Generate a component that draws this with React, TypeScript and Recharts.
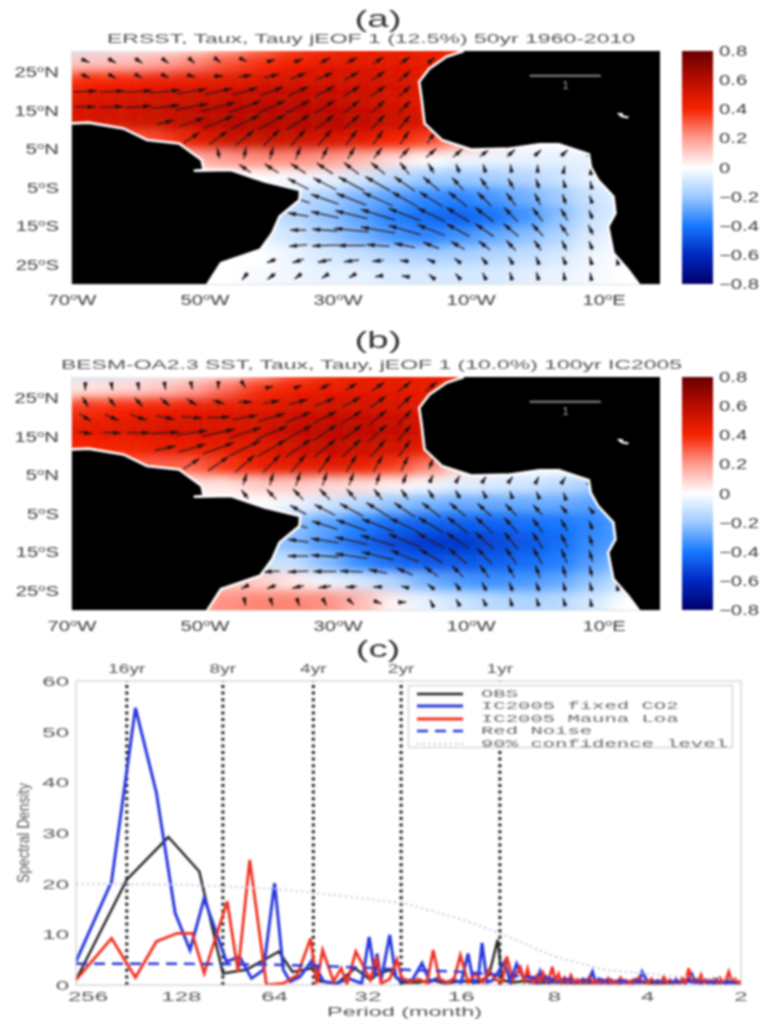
import React from 'react';
import {
  ComposedChart, Area, Line, Scatter, XAxis, YAxis, ReferenceLine, ReferenceDot, Legend,
} from 'recharts';

const FONT = '"Liberation Sans", Arial, sans-serif';
const TEXT = '#3c3c3c';

// ─── Map data ────────────────────────────────────────────────────────────────
const lonTicks = [-70, -50, -30, -10, 10];
const latTicks = [25, 15, 5, -5, -15, -25];
const cbarTicks = [0.8, 0.6, 0.4, 0.2, 0, -0.2, -0.4, -0.6, -0.8];

// colormap: value, colour
const cmap: [number, string][] = [
  [-0.8, '#00006a'], [-0.6, '#0028c0'], [-0.4, '#1678ff'], [-0.2, '#9ccaff'], [0, '#ffffff'],
  [0.2, '#ff9c90'], [0.4, '#f62400'], [0.6, '#b80c00'], [0.8, '#680000'],
];

const southAmerica = [
  [-70, 11.7], [-67.5, 11.9], [-62.3, 10.4], [-58.7, 7.4], [-53.9, 6.5], [-50.5, 2.2], [-50.2, -0.4],
  [-51.7, -0.6], [-46.1, -0.4], [-41, -3.4], [-35.7, -5.6], [-35.8, -8.2], [-38.8, -12.5], [-39.9, -16.8],
  [-41.7, -21.1], [-47.6, -24.6], [-49.8, -30.5], [-70, -30.5],
];
const africa = [
  [-11.1, 30.5], [-13.7, 29], [-16.3, 25.9], [-17.8, 22.5], [-17.4, 17.7], [-17, 11.7], [-14.4, 7.4],
  [-10, 4.9], [-4.1, 5.2], [0.3, 6.3], [3.2, 6.3], [7.7, 3.7], [8, 0.4], [9.1, -3], [11.4, -7.3],
  [11.7, -11.6], [10.6, -15.1], [11.4, -22], [13.6, -26.3], [15.4, -30.5], [18.4, -30.5], [18.4, 30.5],
];
const lake = [[11.9, 14.4], [12.6, 13.3], [13.6, 13], [13.7, 13.5], [12.8, 13.8]];
const scaleBar = [[-1.2, 24.1], [9.5, 24.1]];

// SST loading, rows lat 30..-30 by 5, columns lon -70..20 by 5
const heatA = [
  [-.08, -.08, -.05, -.02, .02, .1, .22, .33, .38, .42, .42, .42, .42, .42, .42, .42, .42, .42, .42],
  [.12, .12, .14, .18, .24, .32, .38, .42, .45, .46, .46, .44, .42, .42, .42, .42, .42, .42, .42],
  [.38, .4, .42, .44, .46, .48, .5, .52, .52, .52, .5, .48, .44, .42, .42, .42, .42, .42, .42],
  [.48, .5, .52, .54, .55, .56, .57, .57, .56, .54, .5, .46, .42, .42, .42, .42, .42, .42, .42],
  [.5, .5, .52, .55, .58, .6, .6, .6, .6, .57, .54, .5, .38, .3, .2, .2, .2, .2, .2],
  [.3, .3, .3, .35, .45, .55, .55, .54, .5, .46, .4, .34, .24, .08, 0, 0, 0, 0, 0],
  [.1, .1, .1, .1, .15, .2, .22, .22, .2, .14, .06, 0, -.03, -.04, -.05, -.05, -.05, -.05, -.05],
  [0, 0, 0, 0, 0, 0, 0, -.02, -.04, -.09, -.15, -.2, -.2, -.18, -.15, -.1, -.04, 0, 0],
  [-.1, -.1, -.1, -.1, -.1, -.1, -.1, -.12, -.18, -.26, -.31, -.36, -.37, -.32, -.26, -.18, -.1, -.05, 0],
  [-.1, -.1, -.1, -.1, -.1, -.1, -.1, -.15, -.22, -.3, -.38, -.43, -.45, -.41, -.33, -.22, -.1, -.05, 0],
  [-.05, -.05, -.05, -.05, -.05, -.05, -.05, -.1, -.18, -.26, -.33, -.37, -.33, -.28, -.22, -.15, -.06, -.03, 0],
  [0, 0, 0, 0, 0, 0, 0, -.04, -.08, -.11, -.15, -.17, -.17, -.15, -.12, -.08, -.03, 0, 0],
  [0, 0, 0, 0, 0, 0, -.02, -.03, -.05, -.05, -.07, -.08, -.08, -.08, -.06, -.04, -.02, 0, 0],
];
const heatB = [
  [-.1, -.1, -.07, -.04, -.02, .02, .12, .28, .36, .42, .42, .42, .42, .42, .42, .42, .42, .42, .42],
  [.05, .06, .08, .12, .18, .28, .38, .42, .44, .46, .46, .44, .42, .42, .42, .42, .42, .42, .42],
  [.36, .38, .4, .42, .44, .46, .48, .5, .52, .52, .5, .46, .42, .42, .42, .42, .42, .42, .42],
  [.44, .46, .48, .5, .5, .5, .52, .56, .58, .58, .56, .5, .42, .42, .42, .42, .42, .42, .42],
  [.4, .4, .42, .44, .45, .46, .48, .52, .56, .54, .52, .46, .3, .24, .2, .2, .2, .2, .2],
  [.3, .3, .3, .3, .3, .38, .44, .46, .46, .44, .36, .24, .1, .02, 0, 0, 0, 0, 0],
  [.05, .05, .05, .05, .05, .05, .1, .1, .08, .06, .02, -.02, -.06, -.08, -.1, -.14, -.18, -.18, -.18],
  [0, 0, 0, 0, 0, 0, 0, -.04, -.1, -.16, -.22, -.26, -.28, -.28, -.28, -.28, -.3, -.3, -.3],
  [-.2, -.2, -.2, -.2, -.2, -.2, -.2, -.22, -.3, -.38, -.44, -.46, -.46, -.45, -.42, -.4, -.36, -.3, -.3],
  [-.2, -.2, -.2, -.2, -.2, -.2, -.2, -.24, -.34, -.44, -.52, -.56, -.56, -.52, -.48, -.42, -.34, -.3, -.3],
  [-.1, -.1, -.1, -.1, -.1, -.1, -.1, -.12, -.24, -.36, -.44, -.48, -.48, -.46, -.42, -.38, -.3, -.2, -.2],
  [.12, .12, .12, .12, .12, .12, .1, .04, -.03, -.08, -.16, -.26, -.32, -.34, -.32, -.28, -.2, -.1, -.1],
  [.2, .2, .2, .2, .2, .22, .24, .24, .22, .14, .02, -.05, -.1, -.14, -.16, -.14, -.08, 0, 0],
];

// wind stress vectors: lat, first lon, u and v (1/100 of the "1" reference arrow) every 4 deg of lon
type ArrowRow = [number, number, number[], number[]];
const arrowsA: ArrowRow[] = [
  [28, -68, [7, 7, 7, 6, 5, 4, 3, 6, 8, 9, 10, 10, 9, 6], [-4, -5, -6, -6, -6, -4, -2, 2, 4, 6, 7, 8, 8, 7]],
  [24, -68, [8, 7, 6, 6, 6, 8, 12, 13, 14, 14, 13, 12, 10, 8], [-5, -5, -4, -4, -2, 0, 2, 4, 7, 8, 9, 10, 11, 10]],
  [20, -68, [20, 22, 24, 26, 26, 24, 22, 20, 18, 17, 15, 13, 10, 8], [1, 1, 2, 3, 5, 7, 9, 10, 11, 12, 12, 12, 12, 11]],
  [16, -68, [18, 20, 22, 25, 28, 30, 28, 24, 20, 17, 14, 12, 10, 8], [0, 1, 2, 4, 7, 10, 13, 14, 14, 14, 14, 14, 13, 12]],
  [12, -56, [15, 22, 26, 26, 24, 20, 16, 14, 12, 10, 9], [5, 10, 14, 16, 17, 17, 16, 16, 16, 15, 14]],
  [8, -52, [14, 16, 16, 14, 13, 12, 10, 9, 8, 7, 6], [12, 15, 17, 18, 18, 18, 17, 16, 15, 13, 10]],
  [4, -48, [-2, 2, 3, 4, 5, 6, 7, 8, 9, 8, 8, 7, 6, 6, 5], [12, 13, 14, 14, 13, 13, 12, 11, 10, 9, 8, 8, 7, 7, 3]],
  [0, -44, [-10, -12, -13, -14, -13, -12, -8, -5, -3, -2, -1, 0, 1, 0], [9, 10, 11, 12, 13, 13, 13, 11, 10, 9, 9, 8, 6, 3]],
  [-4, -36, [-18, -20, -22, -22, -18, -14, -10, -7, -5, -3, -2, -1], [12, 13, 15, 16, 16, 15, 14, 13, 12, 11, 9, 6]],
  [-8, -36, [-20, -24, -26, -26, -22, -20, -16, -12, -8, -5, -3, -2, -3], [8, 11, 13, 15, 16, 16, 16, 15, 14, 13, 11, 8, 1]],
  [-12, -36, [-18, -24, -28, -30, -28, -24, -20, -16, -12, -9, -6, -3], [4, 7, 9, 12, 14, 15, 16, 16, 16, 15, 13, 10]],
  [-16, -36, [-14, -22, -30, -30, -28, -24, -20, -16, -13, -10, -7, -4], [0, 2, 4, 7, 10, 12, 14, 14, 14, 14, 13, 11]],
  [-20, -36, [-16, -22, -24, -20, -18, -14, -12, -10, -8, -6, -4, -3], [-2, -1, 0, 2, 5, 7, 9, 10, 11, 11, 11, 10]],
  [-24, -40, [-8, -10, -12, -13, -10, -8, -7, -6, -5, -4, -3, -3, -2, -1], [-4, -4, -3, -2, -1, 1, 4, 6, 8, 9, 9, 9, 9, 8]],
  [-28, -44, [-5, -7, -6, -5, -4, -5, -5, -4, -4, -3, -2, -2, -1, -1], [-8, -7, -6, -4, -3, -1, 1, 4, 6, 8, 9, 9, 9, 8]],
];
const arrowsB: ArrowRow[] = [
  [28, -68, [0, 1, 1, 1, 1, 0, 1, 3, 6, 9, 10, 11, 11, 10], [-8, -8, -8, -7, -6, -5, -2, 1, 3, 6, 8, 10, 11, 11]],
  [24, -68, [5, 6, 7, 8, 9, 10, 12, 14, 16, 17, 16, 14, 12, 9], [-11, -10, -10, -9, -7, -4, 0, 3, 6, 9, 11, 13, 14, 14]],
  [20, -68, [10, 12, 14, 16, 18, 20, 22, 23, 22, 20, 18, 15, 12, 8], [-8, -7, -6, -4, -2, 1, 5, 9, 12, 14, 15, 16, 16, 15]],
  [16, -68, [12, 16, 20, 24, 27, 28, 28, 27, 24, 21, 18, 15, 11, 7], [-2, -1, 0, 2, 5, 8, 12, 15, 17, 18, 18, 18, 17, 16]],
  [12, -56, [18, 24, 27, 27, 25, 22, 19, 16, 13, 10, 6], [5, 9, 13, 17, 19, 20, 20, 20, 19, 18, 15]],
  [8, -52, [14, 18, 17, 15, 13, 11, 9, 8, 6, 4], [12, 16, 19, 20, 20, 20, 19, 18, 16, 12]],
  [4, -44, [3, 3, 4, 4, 4, 3, 3, 3, 3, 3, 3, 2, 2, 1], [13, 14, 15, 15, 14, 13, 11, 9, 7, 6, 5, 5, 4, 3]],
  [0, -44, [-6, -8, -9, -9, -8, -7, -6, -5, -4, -3, -2, -2, -1], [10, 11, 12, 12, 12, 12, 11, 10, 9, 8, 7, 6, 4]],
  [-4, -36, [-14, -18, -20, -20, -18, -16, -14, -12, -10, -8, -6, -4, -1], [10, 12, 14, 16, 16, 16, 15, 14, 13, 11, 9, 6, 3]],
  [-8, -36, [-16, -22, -26, -28, -26, -22, -18, -15, -12, -9, -6, -3, -1], [6, 9, 12, 14, 16, 17, 18, 18, 17, 15, 13, 10, 6]],
  [-12, -36, [-18, -24, -28, -30, -28, -24, -20, -16, -12, -9, -6, -3], [3, 5, 8, 12, 15, 17, 18, 19, 19, 18, 15, 12]],
  [-16, -36, [-18, -24, -28, -28, -24, -20, -16, -13, -10, -8, -5, -3], [0, 2, 5, 9, 13, 15, 17, 18, 18, 18, 16, 13]],
  [-20, -40, [-14, -18, -20, -20, -16, -14, -12, -10, -8, -6, -4, -3, -2], [-1, -1, 0, 1, 4, 8, 11, 13, 14, 14, 14, 13, 12]],
  [-24, -44, [-6, -8, -10, -11, -10, -8, -6, -6, -5, -4, -3, -3, -2, -2, -1], [-4, -4, -3, -2, -1, 0, 2, 6, 9, 10, 10, 10, 10, 10, 9]],
  [-28, -44, [1, 2, 2, 3, 4, 6, 3, -2, -3, -3, -2, -2, -2, -1], [-7, -8, -8, -7, -5, -3, 0, 5, 7, 8, 9, 9, 9, 8]],
];

// ─── Spectrum data (period in months, density) ───────────────────────────────
const periodTicks = [256, 128, 64, 32, 16, 8, 4, 2];
const densityTicks = [0, 10, 20, 30, 40, 50, 60];
const yearMarks: [number, string][] = [[192, '16yr'], [94, '8yr'], [48, '4yr'], [25, '2yr'], [12, '1yr']];

const obsPeriod = [280, 192, 141, 112, 94, 79, 62, 56, 48.4, 45.6, 40.3, 35.2, 31.4, 30, 27.2, 25, 22, 20, 18, 16, 14, 13, 12.2, 11.8, 11, 10, 9, 8, 7, 6, 5, 4.4, 3.8, 3.2, 2.8, 2.4, 2];
const obsValue = [1, 20.8, 29.2, 22.4, 2.3, 3, 6.6, 2.6, 3.3, 0.7, 0.3, 3.3, 1, 2, 3, 0.5, 0.5, 1, 0.3, 0.8, 0.5, 2, 8.9, 1, 0.5, 0.8, 0.4, 0.6, 0.4, 0.5, 0.4, 0.6, 0.3, 0.5, 1.2, 0.5, 0.4];

// the fine-grained part of the model spectra, 10 to 2 months
const tailPeriod = [10, 9.77, 9.55, 9.33, 9.12, 8.91, 8.71, 8.51, 8.32, 8.13, 7.94, 7.76, 7.59, 7.41, 7.24, 7.08, 6.92, 6.76, 6.61, 6.46, 6.31, 6.17, 6.03, 5.89, 5.75, 5.62, 5.5, 5.37, 5.25, 5.13, 5.01, 4.9, 4.79, 4.68, 4.57, 4.47, 4.37, 4.27, 4.17, 4.07, 3.98, 3.89, 3.8, 3.72, 3.63, 3.55, 3.47, 3.39, 3.31, 3.24, 3.16, 3.09, 3.02, 2.95, 2.88, 2.82, 2.75, 2.69, 2.63, 2.57, 2.51, 2.45, 2.4, 2.34, 2.29, 2.24, 2.19, 2.14, 2.09, 2.04, 2];

const bluePeriod = [280, 215, 180, 154, 134, 120, 108, 91.5, 83, 76, 69.5, 64, 60, 57, 53, 48.4, 44.5, 40.3, 37, 33.5, 31.7, 30.3, 29.9, 29, 27.2, 26, 24.9, 23, 21.4, 20.2, 19, 18, 17, 16, 15.2, 14.6, 14.1, 13.7, 13.2, 12.6, 11.6, 11.1, 10.6, ...tailPeriod];
const blueValue = [4.6, 20.4, 54.7, 37.9, 14.2, 6.9, 17.1, 4.6, 5.6, 1.3, 3, 20.1, 3, 0.7, 1.6, 4.9, 0.7, 0.3, 1.3, 0.3, 9.5, 1.6, 6.2, 1, 9.9, 1.5, 0.8, 1, 4.3, 0.6, 1.4, 0.4, 1, 0.5, 6.2, 0.4, 1.2, 8.3, 0.5, 1, 4.5, 0.5, 4.2,
  0.9, 2.4, 0.6, 1.4, 0.5, 2.6, 0.8, 1.6, 0.4, 1, 0.5, 0.8, 0.3, 1.1, 0.4, 0.8, 0.3, 0.9, 0.4, 1, 0.3, 1.3, 2.6, 0.5, 1.2, 0.4, 0.8, 0.3, 1, 0.4, 0.7, 0.3, 0.9, 0.4, 0.7, 0.3, 1.1, 0.5, 2.6, 1.4, 0.5, 1, 0.3, 0.9, 0.4, 1.4, 0.5, 0.8, 0.3, 1.1, 0.4, 0.7, 0.3, 1.2, 2.1, 0.5, 0.9, 0.3, 1, 0.4, 0.8, 0.3, 1.1, 0.4, 0.7, 0.3, 0.9, 0.4, 1, 0.3, 0.6];

const redPeriod = [280, 215, 180, 154, 132, 118, 108, 91, 84, 77, 68, 60, 54, 49, 46.8, 44.8, 41.3, 39, 37.4, 35, 31.4, 30, 29, 27.2, 25.8, 24.9, 23.5, 22, 20.6, 19.7, 18.8, 17.6, 16.8, 16.1, 15.2, 14.4, 13.6, 13, 12.4, 11.8, 11.4, 10.9, 10.3, ...tailPeriod];
const redValue = [1, 9.2, 1.5, 8.6, 10.2, 10.2, 2.3, 16.5, 2.6, 24.7, 0, 0.3, 2, 9.2, 0.3, 6.9, 0.7, 3.3, 0.2, 6.6, 1, 5.6, 0.3, 1.2, 5, 1.5, 0.6, 1.2, 0.4, 6.9, 1.2, 0.4, 1.5, 5.9, 0.5, 2.2, 0.5, 3, 1, 0.6, 5.6, 1, 3.5,
  0.8, 3.2, 1, 0.4, 1.8, 0.6, 2.4, 0.7, 1.2, 3.6, 0.8, 2.2, 0.5, 1.5, 0.4, 1.9, 0.6, 1.1, 0.3, 1.2, 0.5, 1.6, 0.4, 0.9, 0.3, 1.1, 0.4, 1.3, 0.3, 0.8, 0.3, 1.4, 0.5, 0.9, 0.3, 1, 0.4, 1.5, 0.5, 0.8, 0.3, 1.2, 0.4, 0.9, 0.3, 1.6, 0.5, 1, 0.4, 0.9, 0.3, 1.3, 0.5, 3.3, 0.6, 1, 0.4, 2, 0.5, 1, 0.4, 1.2, 0.3, 1.4, 0.5, 0.9, 2.6, 0.6, 1.2, 0.4, 0.8];

const noisePeriod = [280, 128, 64, 48, 32, 24, 16, 12, 8, 4, 2];
const noiseValue = [4.2, 4.2, 4, 3.8, 3.4, 3, 2.6, 2, 1.2, 0.7, 0.5];
const confPeriod = [280, 128, 96, 64, 48, 32, 24, 16, 12, 8, 5.5, 4, 2.8, 2];
const confValue = [20, 19.8, 19.5, 19, 18.2, 17, 16, 13, 10.2, 5.6, 3, 2.2, 1.4, 1];

const series = [
  { name: 'OBS', periods: obsPeriod, values: obsValue, color: '#222222', width: 2.4, dash: undefined },
  { name: 'IC2005 fixed CO2', periods: bluePeriod, values: blueValue, color: '#2a38dc', width: 3, dash: undefined },
  { name: 'IC2005 Mauna Loa', periods: redPeriod, values: redValue, color: '#f03020', width: 2.8, dash: undefined },
  { name: 'Red Noise', periods: noisePeriod, values: noiseValue, color: '#2a38dc', width: 2.4, dash: '11 7' },
  { name: '90% confidence level', periods: confPeriod, values: confValue, color: '#c4c8ea', width: 2, dash: '2 3.5' },
];

// ─── Helpers ─────────────────────────────────────────────────────────────────
function colorFor(v: number) {
  const hex = (s: string, i: number) => parseInt(s.slice(1 + i * 2, 3 + i * 2), 16);
  const clamped = Math.max(-0.8, Math.min(0.8, v));
  let i = 0;
  while (i < cmap.length - 2 && clamped > cmap[i + 1][0]) i++;
  const [a, ca] = cmap[i];
  const [b, cb] = cmap[i + 1];
  const t = (clamped - a) / (b - a);
  const ch = [0, 1, 2].map((k) => Math.round(hex(ca, k) + (hex(cb, k) - hex(ca, k)) * t));
  return `rgb(${ch[0]},${ch[1]},${ch[2]})`;
}

// closed shape for an Area: upper edge follows the outline, lower edge stays on the first point's latitude
const landData = (pts: number[][]) => {
  const base = pts[0][1];
  return pts.map(([lon, lat]) => ({ lon, edge: [base, lat] }));
};
const coastData = (pts: number[][]) => pts.map(([lon, lat]) => ({ lon, lat }));

function heatCells(table: number[][]) {
  return table.flatMap((row, r) => row.map((v, c) => ({ lon: -70 + c * 5, lat: 30 - r * 5, v, r, c })));
}

function arrowCells(rows: ArrowRow[]) {
  return rows.flatMap(([lat, start, us, vs]) => us.map((u, i) => ({ lon: start + i * 4, lat, u, v: vs[i] })));
}

const HeatCell = (p: any) => {
  const { cx, cy, payload } = p;
  const w = 56;
  const h = 34;
  // border cells run past the plot so the blur does not fade at the frame
  const x0 = cx - w / 2 - (payload.c === 0 ? 40 : 0);
  const x1 = cx + w / 2 + (payload.c === 18 ? 40 : 0);
  const y0 = cy - h / 2 - (payload.r === 0 ? 40 : 0);
  const y1 = cy + h / 2 + (payload.r === 12 ? 40 : 0);
  return <rect x={x0} y={y0} width={x1 - x0} height={y1 - y0} fill={colorFor(payload.v)} filter="url(#heatBlur)" />;
};

const Arrow = (p: any) => {
  const { cx, cy, payload } = p;
  const dx = payload.u * 1.15;
  const dy = -payload.v * 0.9;
  const len = Math.hypot(dx, dy);
  if (!len) return <g />;
  const ux = dx / len;
  const uy = dy / len;
  const tx = cx + dx / 2;
  const ty = cy + dy / 2;
  const bx = tx - ux * 8;
  const by = ty - uy * 8;
  return (
    <g>
      <line x1={cx - dx / 2} y1={cy - dy / 2} x2={tx} y2={ty} stroke="#2a1c1c" strokeWidth={1.3} />
      <polygon points={`${tx},${ty} ${bx - uy * 2.2},${by + ux * 2.2} ${bx + uy * 2.2},${by - ux * 2.2}`} fill="#1c1010" />
    </g>
  );
};

function Wide({ x, y, sx = 1.45, size = 14, anchor = 'middle', fill = TEXT, children }: any) {
  return (
    <text transform={`translate(${x},${y}) scale(${sx},1)`} textAnchor={anchor} fontSize={size} fontFamily={FONT} fill={fill}>
      {children}
    </text>
  );
}

const Deg = ({ num, hemi }: { num: number; hemi: string }) => (
  <>
    <tspan>{num}</tspan>
    <tspan dy={-5} fontSize={9}>o</tspan>
    <tspan dy={5}>{hemi}</tspan>
  </>
);

const LonTick = ({ x, y, payload }: any) => {
  const v = payload.value;
  return <Wide x={x} y={y + 13}><Deg num={Math.abs(v)} hemi={v < 0 ? 'W' : 'E'} /></Wide>;
};
const LatTick = ({ x, y, payload }: any) => {
  const v = payload.value;
  return <Wide x={x - 5} y={y + 5} anchor="end"><Deg num={Math.abs(v)} hemi={v < 0 ? 'S' : 'N'} /></Wide>;
};

// ─── Map panel ───────────────────────────────────────────────────────────────
function MapPanel({ top, tag, title, titleX, titleLen, heat, arrows, id }: any) {
  const axisDomainX: [number, number] = [-70, 18.4];
  const axisDomainY: [number, number] = [-30, 30.5];
  return (
    <div style={{ position: 'absolute', left: 0, top }}>
      <ComposedChart width={767} height={320} margin={{ top: 51, right: 107, bottom: 6, left: 2 }}>
        <defs>
          <filter id="heatBlur" x="-60%" y="-60%" width="220%" height="220%">
            <feGaussianBlur stdDeviation="10 6" />
          </filter>
        </defs>
        <XAxis dataKey="lon" type="number" domain={axisDomainX} ticks={lonTicks} allowDataOverflow
          tick={LonTick} tickLine={false} axisLine={{ stroke: '#c4c4c4' }} height={30} interval={0} />
        <YAxis dataKey="lat" type="number" domain={axisDomainY} ticks={latTicks} allowDataOverflow
          tick={LatTick} tickLine={false} axisLine={{ stroke: '#c4c4c4' }} width={70} interval={0} />
        <Scatter name={`${id}-sst`} data={heatCells(heat)} shape={HeatCell} isAnimationActive={false} />
        <Scatter name={`${id}-wind`} data={arrowCells(arrows)} shape={Arrow} isAnimationActive={false} />
        <Wide x={378} y={tag === '(a)' ? 27 : 22} size={24} sx={1.6} fill="#333">{tag}</Wide>
        <text x={titleX} y={43} fontSize={13} fontFamily={FONT} fill="#555"
          textLength={titleLen} lengthAdjust="spacingAndGlyphs">{title}</text>
      </ComposedChart>
      {/* land sits in its own chart on top: recharts paints Scatter above Area in one chart */}
      <div style={{ position: 'absolute', left: 0, top: 0 }}>
        <ComposedChart width={767} height={320} margin={{ top: 51, right: 107, bottom: 36, left: 72 }}>
          <XAxis dataKey="lon" type="number" domain={axisDomainX} allowDataOverflow hide />
          <YAxis type="number" domain={axisDomainY} allowDataOverflow hide />
          {[southAmerica, africa].map((land, i) => (
            <Area key={`land${i}`} data={landData(land)} dataKey="edge" type="linear" fill="#000" fillOpacity={1}
              stroke="none" dot={false} activeDot={false} isAnimationActive={false} />
          ))}
          <Area data={landData(lake)} dataKey="edge" type="linear" fill="#fff" fillOpacity={1}
            stroke="none" dot={false} activeDot={false} isAnimationActive={false} />
          {[southAmerica.slice(0, 17), africa.slice(0, 20)].map((coast, i) => (
            <Line key={`coast${i}`} data={coastData(coast)} dataKey="lat" type="linear" stroke="#fff" strokeWidth={2.6}
              dot={false} activeDot={false} isAnimationActive={false} />
          ))}
          <Line data={coastData(scaleBar)} dataKey="lat" type="linear" stroke="#8a8a8a" strokeWidth={2}
            dot={false} activeDot={false} isAnimationActive={false} />
          <ReferenceDot x={4.2} y={21.6} r={0} stroke="none" fill="none"
            label={{ value: '1', fill: '#aaa', fontSize: 11, fontFamily: FONT, position: 'center' }} />
        </ComposedChart>
      </div>
    </div>
  );
}

const cbarBand = [{ x: 0, span: [-0.8, 0.8] }, { x: 1, span: [-0.8, 0.8] }];

function ColorBar({ top, id }: { top: number; id: string }) {
  return (
    <div style={{ position: 'absolute', left: 640, top: top + 41 }}>
      <ComposedChart width={127} height={253} data={cbarBand} margin={{ top: 10, right: 4, bottom: 10, left: 42 }}>
        <defs>
          <linearGradient id={id} x1="0" y1="0" x2="0" y2="1">
            {cmap.slice().reverse().map(([v, c]) => (
              <stop key={v} offset={`${((0.8 - v) / 1.6) * 100}%`} stopColor={c} />
            ))}
          </linearGradient>
        </defs>
        <XAxis dataKey="x" type="number" domain={[0, 1]} hide />
        <YAxis orientation="right" type="number" domain={[-0.8, 0.8]} ticks={cbarTicks} width={50} interval={0}
          axisLine={false} tickLine={false}
          tick={({ x, y, payload }: any) => (
            <Wide x={x - 2} y={y + 5} anchor="start" size={14} sx={1.45}>
              {payload.value === 0 ? '0' : String(payload.value).replace('-', '\u2212')}
            </Wide>
          )} />
        <Area dataKey="span" type="linear" fill={`url(#${id})`} fillOpacity={1} stroke="none" dot={false} activeDot={false} isAnimationActive={false} />
      </ComposedChart>
    </div>
  );
}

// ─── Spectrum panel ──────────────────────────────────────────────────────────
const SpectrumLegend = () => (
  <div style={{ width: 325, height: 63, boxSizing: 'border-box', border: '1px solid #c8c8c8', background: '#fff', position: 'relative' }}>
    {series.map((s, i) => (
      <div key={s.name} style={{ position: 'absolute', left: 0, top: 2 + i * 12.4, height: 12, width: 323 }}>
        <svg width={60} height={12} style={{ position: 'absolute', left: 8, top: 0 }}>
          <line x1={0} x2={46} y1={6} y2={6} stroke={s.color} strokeWidth={s.width} strokeDasharray={s.dash} />
        </svg>
        <span style={{
          position: 'absolute', left: 72, top: 0, fontFamily: '"Liberation Mono", monospace', fontSize: 11, lineHeight: '12px',
          color: '#666', whiteSpace: 'pre', transform: 'scaleX(1.87)', transformOrigin: 'left center',
        }}>{s.name}</span>
      </div>
    ))}
  </div>
);

function Spectrum() {
  return (
    <div style={{ position: 'absolute', left: 0, top: 630 }}>
      <ComposedChart width={767} height={390} margin={{ top: 50, right: 25, bottom: 5, left: 6 }}>
        <XAxis dataKey="period" type="number" scale="log" domain={[2, 280]} reversed allowDataOverflow
          ticks={periodTicks} interval={0} height={30} tickLine={false} axisLine={{ stroke: '#c4c4c4' }}
          tick={({ x, y, payload }: any) => <Wide x={x} y={y + 8} size={13} sx={1.85} fill="#555">{payload.value}</Wide>} />
        <XAxis xAxisId="top" orientation="top" dataKey="period" type="number" scale="log" domain={[2, 280]} reversed allowDataOverflow
          ticks={periodTicks} interval={0} height={1} tick={false} tickSize={-3} tickLine={{ stroke: '#c4c4c4' }} axisLine={{ stroke: '#c4c4c4' }} />
        <YAxis type="number" domain={[0, 60]} ticks={densityTicks} interval={0} width={70} allowDataOverflow
          tickLine={false} axisLine={{ stroke: '#c4c4c4' }}
          tick={({ x, y, payload }: any) => <Wide x={x + 1} y={y + 5} anchor="end" size={13} sx={1.85} fill="#555">{payload.value}</Wide>} />
        <YAxis yAxisId="right" orientation="right" type="number" domain={[0, 60]} ticks={densityTicks} interval={0} width={1}
          tick={false} tickSize={-3} tickLine={{ stroke: '#c4c4c4' }} axisLine={{ stroke: '#c4c4c4' }} />
        {yearMarks.map(([p, label]) => (
          <ReferenceLine key={label} x={p} stroke="#1a1a1a" strokeWidth={3} strokeDasharray="3 3.6"
            label={({ viewBox }: any) => <Wide x={viewBox.x} y={43} size={12} sx={1.6} fill="#555">{label}</Wide>} />
        ))}
        {series.map((s) => (
          <Line key={s.name} name={s.name} data={s.periods.map((period, i) => ({ period, density: s.values[i] }))}
            dataKey="density" type="linear" stroke={s.color} strokeWidth={s.width} strokeDasharray={s.dash}
            dot={false} activeDot={false} isAnimationActive={false} />
        ))}
        <Legend layout="horizontal" verticalAlign="middle" align="center" content={SpectrumLegend}
          wrapperStyle={{ position: 'absolute', left: 408, top: 55, width: 325, height: 63 }} />
        <Wide x={378} y={27} size={24} sx={1.6} fill="#333">(c)</Wide>
        <text x={0} y={0} transform="translate(29,203) rotate(-90)" textAnchor="middle" fontSize={17} fontFamily={FONT} fill="#555"
          textLength={100} lengthAdjust="spacingAndGlyphs">Spectral Density</text>
        <text x={327} y={386} fontSize={13} fontFamily={FONT} fill="#555" textLength={155} lengthAdjust="spacingAndGlyphs">Period (month)</text>
      </ComposedChart>
    </div>
  );
}

export default function App() {
  return (
    <div style={{ position: 'absolute', left: 0, top: 0, width: 767, height: 1020, background: '#fff', overflow: 'hidden', filter: 'blur(0.8px)' }}>
      <MapPanel top={0} id="a" tag="(a)" title="ERSST, Taux, Tauy jEOF 1 (12.5%) 50yr 1960-2010" titleX={107} titleLen={528} heat={heatA} arrows={arrowsA} />
      <ColorBar top={0} id="cbarA" />
      <MapPanel top={326} id="b" tag="(b)" title="BESM-OA2.3 SST, Taux, Tauy, jEOF 1 (10.0%) 100yr IC2005" titleX={61} titleLen={621} heat={heatB} arrows={arrowsB} />
      <ColorBar top={326} id="cbarB" />
      <Spectrum />
    </div>
  );
}
